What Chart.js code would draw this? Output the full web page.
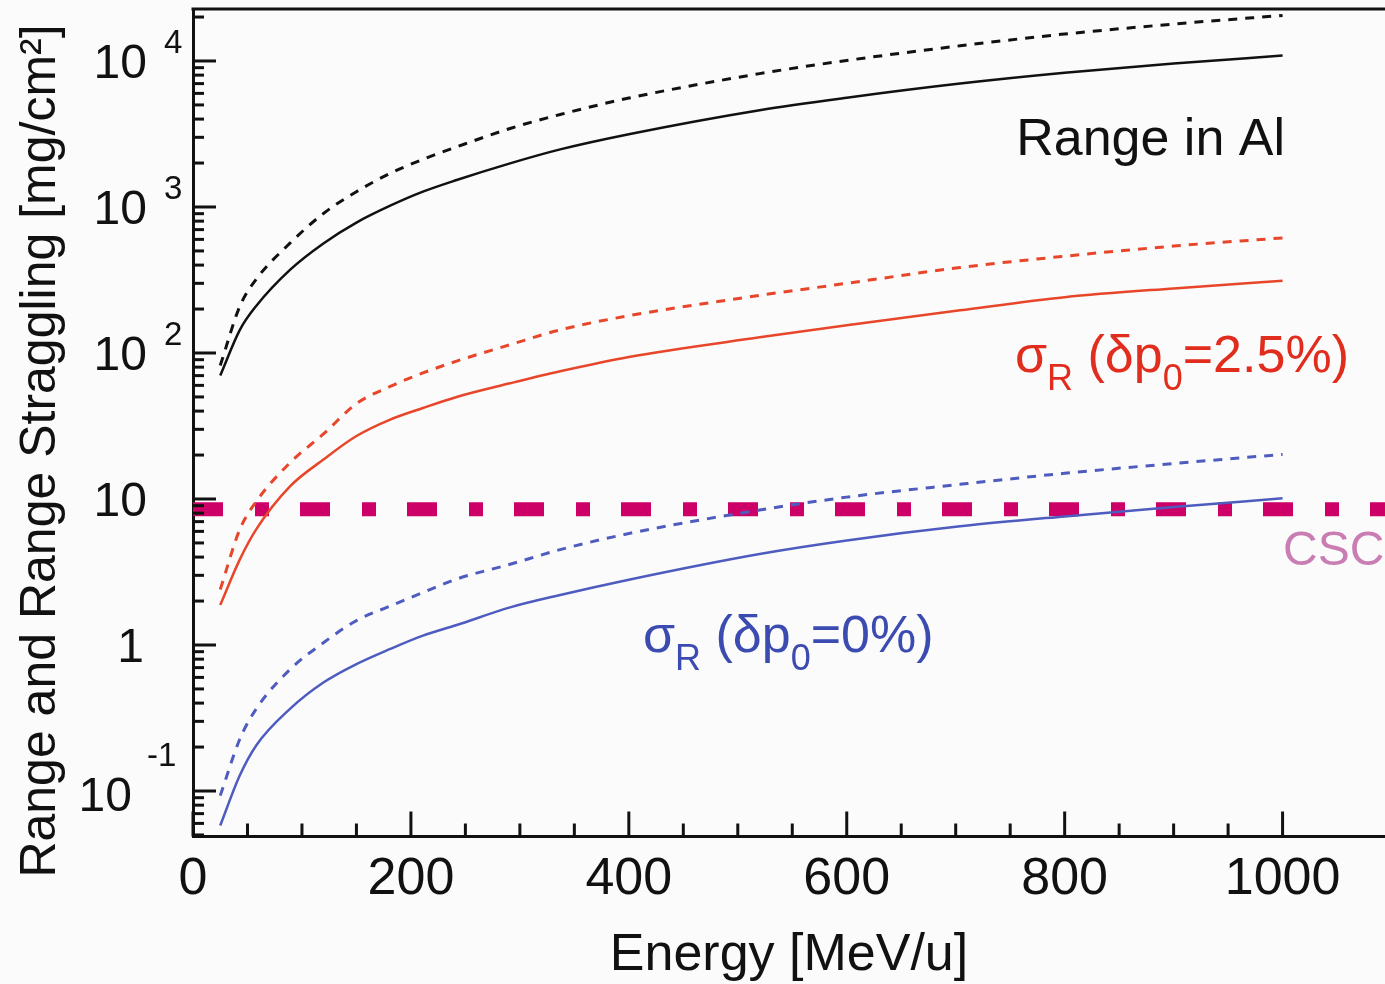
<!DOCTYPE html>
<html lang="en">
<head>
<meta charset="UTF-8">
<title>Range and Range Straggling in Al</title>
<script src="https://cdn.jsdelivr.net/npm/chart.js"></script>
<style>
    body {
        margin: 0;
        background: #fbfbfb;
    }
    #wrap {
        width: 1385px;
        height: 984px;
    }
</style>
</head>
<body>
<div id="wrap"><canvas id="rangeChart" width="1385" height="984"></canvas></div>
<script>
// energy [MeV/u]
var energy = [25, 43, 58, 89, 120, 150, 181, 211, 242, 291, 337, 400, 520, 600, 704, 800, 900, 1000];

// range in Al [mg/cm2]
var rangeSolid  = [70, 144, 210, 371, 565, 782, 1020, 1273, 1530, 1990, 2480, 3150, 4600, 5600, 7000, 8300, 9600, 10900];
var rangeDashed = [82, 209, 320, 565, 906, 1273, 1700, 2120, 2580, 3450, 4300, 5570, 8190, 10080, 12700, 15300, 17900, 20500];

// range straggling, dp0 = 2.5%
var sigma25Solid  = [1.88, 3.86, 6.2, 12.2, 18.7, 27, 35, 42, 50, 62, 75, 94, 128, 155, 196, 241, 277, 312];
var sigma25Dashed = [2.4, 6.2, 9.6, 17.7, 28, 45, 59, 73, 88, 114, 144, 180, 248, 300, 385, 460, 540, 614];

// range straggling, dp0 = 0%
var sigma0Solid  = [0.058, 0.128, 0.205, 0.365, 0.555, 0.74, 0.94, 1.16, 1.37, 1.81, 2.2, 2.8, 4.2, 5.2, 6.5, 7.6, 8.8, 10.1];
var sigma0Dashed = [0.093, 0.227, 0.365, 0.68, 1.04, 1.47, 1.85, 2.29, 2.83, 3.57, 4.5, 5.8, 8.4, 10.3, 12.6, 15, 17.5, 20.2];

// CSC thickness level
var cscLevel = 8.5;
var cscEnergy = [0, 1100];

// axis labels
var xLabelStep = 200;
var xMinorStep = 50;
var yDecades = [4, 3, 2, 1, 0, -1];
var yTickBase = ['10', '10', '10', '10', '1', '10'];
var yTickExp = ['4', '3', '2', '', '', '-1'];

var FONT = '"Liberation Sans", Arial, Helvetica, sans-serif';

function toPoints(xs, ys) {
    return xs.map(function (x, i) { return { x: x, y: ys[i] }; });
}

function curve(ys, color, dashed) {
    return {
        data: toPoints(energy, ys),
        borderColor: color,
        borderWidth: dashed ? 3 : 2.5,
        borderDash: dashed ? [9, 8] : [],
        pointRadius: 0,
        cubicInterpolationMode: 'monotone',
        order: 0
    };
}

function drawRich(ctx, parts, x, y, color) {
    ctx.fillStyle = color;
    ctx.textAlign = 'left';
    ctx.textBaseline = 'alphabetic';
    parts.forEach(function (p) {
        ctx.font = p[1] + 'px ' + FONT;
        ctx.fillText(p[0], x, y + (p[2] || 0));
        x += ctx.measureText(p[0]).width;
    });
}

// inward ticks, top frame, y tick labels and text annotations
var decorPlugin = {
    id: 'decor',
    afterDraw: function (chart) {
        var ctx = chart.ctx;
        var area = chart.chartArea;
        var xs = chart.scales.x;
        var ys = chart.scales.y;
        ctx.save();
        ctx.strokeStyle = '#111';
        ctx.lineWidth = 3;

        // top frame
        ctx.beginPath();
        ctx.moveTo(area.left - 1.5, area.top);
        ctx.lineTo(area.right, area.top);
        ctx.stroke();

        // x ticks
        xs.ticks.forEach(function (t) {
            if (t.value % xMinorStep !== 0) return;
            var px = xs.getPixelForValue(t.value);
            var len = t.value % xLabelStep === 0 ? 25 : 13;
            ctx.beginPath();
            ctx.moveTo(px, area.bottom);
            ctx.lineTo(px, area.bottom - len);
            ctx.stroke();
        });

        // y ticks (log minors)
        for (var e = -2; e <= 4; e++) {
            for (var m = 1; m <= 9; m++) {
                var v = m * Math.pow(10, e);
                if (v < ys.min || v > ys.max) continue;
                var py = ys.getPixelForValue(v);
                ctx.beginPath();
                ctx.moveTo(area.left, py);
                ctx.lineTo(area.left + (m === 1 ? 23 : 11), py);
                ctx.stroke();
            }
        }

        // y tick labels
        ctx.fillStyle = '#111';
        ctx.textBaseline = 'alphabetic';
        yDecades.forEach(function (d, i) {
            var py = ys.getPixelForValue(Math.pow(10, d));
            ctx.font = '48px ' + FONT;
            ctx.textAlign = 'right';
            if (d === -1) {
                ctx.fillText(yTickBase[i], 132, py + 20);
                ctx.font = '33px ' + FONT;
                ctx.textAlign = 'left';
                ctx.fillText(yTickExp[i], 147, py - 25);
            } else if (d === 0) {
                ctx.fillText(yTickBase[i], 144, py + 17);
            } else {
                ctx.fillText(yTickBase[i], 147, py + 17);
                if (yTickExp[i]) {
                    ctx.font = '33px ' + FONT;
                    ctx.textAlign = 'left';
                    ctx.fillText(yTickExp[i], 164, py - 8);
                }
            }
        });

        // y axis title
        ctx.save();
        ctx.translate(55, 451);
        ctx.rotate(-Math.PI / 2);
        ctx.font = '50px ' + FONT;
        ctx.textAlign = 'center';
        ctx.fillText('Range and Range Straggling [mg/cm\u00b2]', 0, 0);
        ctx.restore();

        // curve labels
        ctx.font = '52px ' + FONT;
        ctx.textAlign = 'right';
        ctx.fillStyle = '#111';
        ctx.fillText('Range in Al', 1285, 155);

        drawRich(ctx, [['\u03c3', 52], ['R', 36, 18], [' (\u03b4p', 52], ['0', 36, 18], ['=2.5%)', 52]], 1015, 372, '#e02d1e');
        drawRich(ctx, [['\u03c3', 52], ['R', 36, 18], [' (\u03b4p', 52], ['0', 36, 18], ['=0%)', 52]], 643, 652, '#3c4bb0');

        ctx.font = '48px ' + FONT;
        ctx.textAlign = 'left';
        ctx.fillStyle = '#c97db3';
        ctx.fillText('CSC', 1283, 565);

        ctx.restore();
    }
};

new Chart(document.getElementById('rangeChart').getContext('2d'), {
    type: 'line',
    data: {
        datasets: [
            curve(rangeSolid, '#111111', false),
            curve(rangeDashed, '#111111', true),
            curve(sigma25Solid, '#e8462a', false),
            curve(sigma25Dashed, '#e8462a', true),
            curve(sigma0Solid, '#4f5cbf', false),
            curve(sigma0Dashed, '#4f5cbf', true),
            {
                data: toPoints(cscEnergy, [cscLevel, cscLevel]),
                borderColor: '#cc0066',
                borderWidth: 14,
                borderDash: [30, 32, 14, 31],
                borderCapStyle: 'butt',
                pointRadius: 0,
                order: 10
            }
        ]
    },
    options: {
        responsive: false,
        animation: false,
        layout: { padding: { top: 9, right: 0, left: 0, bottom: 0 } },
        plugins: {
            legend: { display: false },
            tooltip: { enabled: false }
        },
        scales: {
            x: {
                type: 'linear',
                position: 'bottom',
                min: 0,
                max: 1094,
                grid: { display: false, drawTicks: false },
                border: { display: true, color: '#111', width: 3 },
                ticks: {
                    stepSize: xMinorStep,
                    autoSkip: false,
                    maxRotation: 0,
                    padding: 12,
                    color: '#111',
                    font: { family: FONT, size: 52 },
                    callback: function (v) { return v % xLabelStep === 0 ? String(v) : ''; }
                },
                title: {
                    display: true,
                    text: 'Energy [MeV/u]',
                    color: '#111',
                    padding: 0,
                    font: { family: FONT, size: 52, lineHeight: 1.1 }
                },
                afterFit: function (scale) {
                    scale.height = 147.5;
                    scale.paddingRight = 0;
                    scale.paddingLeft = 0;
                }
            },
            y: {
                type: 'logarithmic',
                min: 0.0488,
                max: 22700,
                grid: { display: false, drawTicks: false },
                border: { display: true, color: '#111', width: 3 },
                ticks: { display: false },
                afterFit: function (scale) { scale.width = 193; }
            }
        }
    },
    plugins: [decorPlugin]
});
</script>
</body>
</html>
